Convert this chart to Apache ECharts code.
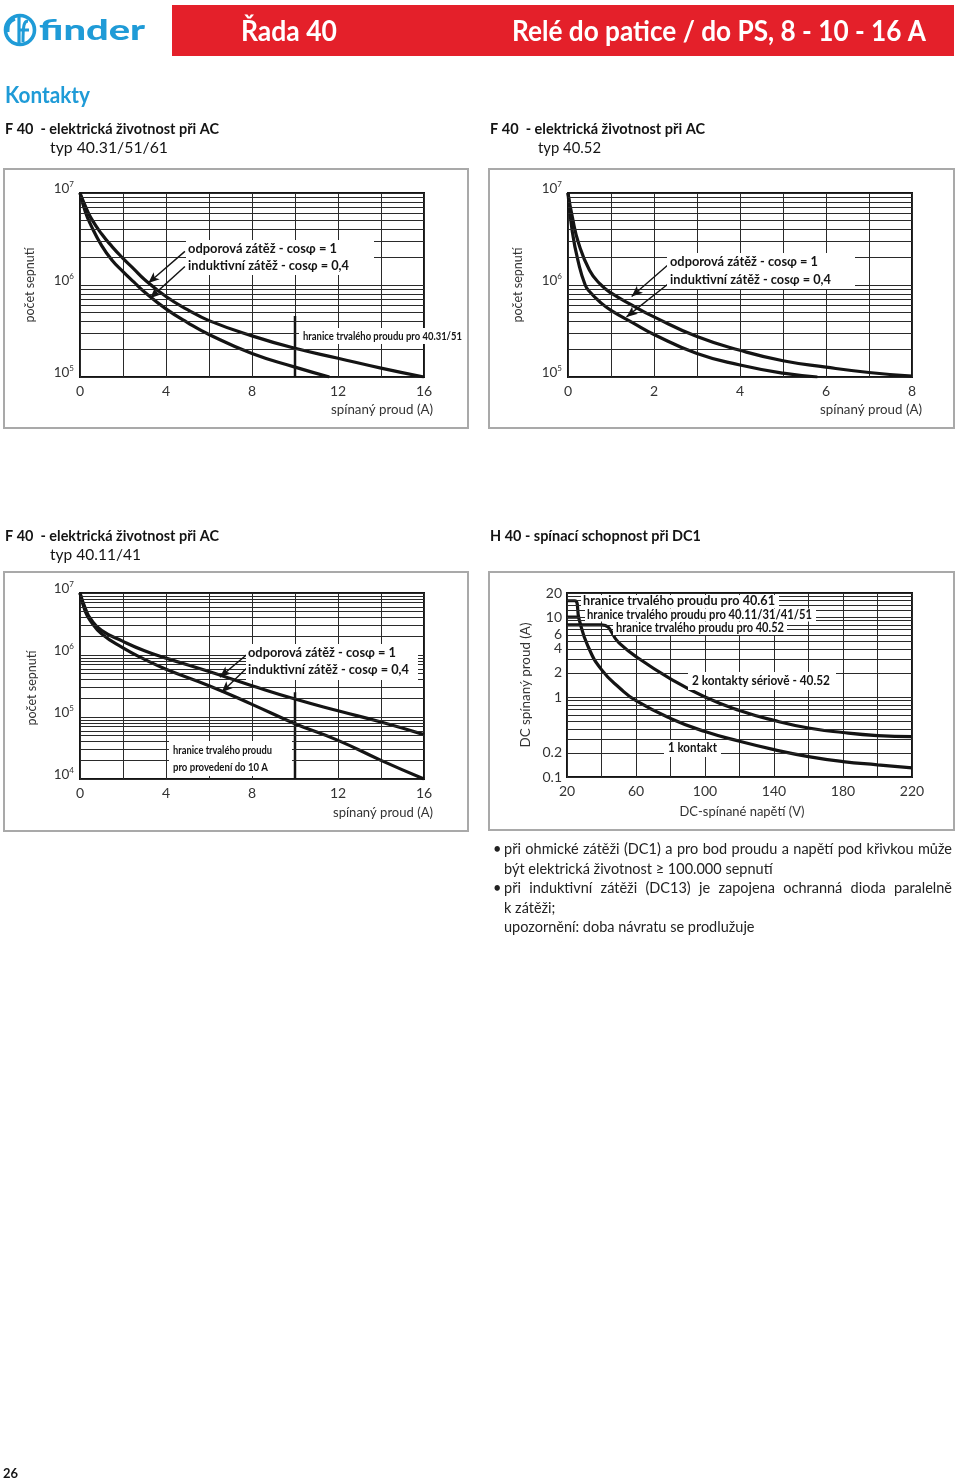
<!DOCTYPE html>
<html><head><meta charset="utf-8">
<script src="https://cdn.jsdelivr.net/npm/echarts@6/dist/echarts.min.js"></script>
<style>
html,body{margin:0;padding:0;background:#fff;}
#c{position:absolute;left:0;top:0;width:960px;height:1482px;}
.note{position:absolute;left:504px;width:448px;font-family:Lato,"Open Sans",sans-serif;font-size:14.5px;color:#222;line-height:19.5px;white-space:nowrap;}
.j{text-align:justify;text-align-last:justify;white-space:normal;}
.b{position:absolute;left:-11px;top:0;}
</style></head>
<body>
<div id="c"></div>
<div class="note j" style="top:839px"><span class="b">•</span>při ohmické zátěži (DC1) a pro bod proudu a napětí pod křivkou může</div>
<div class="note" style="top:858.5px">být elektrická životnost ≥ 100.000 sepnutí</div>
<div class="note j" style="top:878px"><span class="b">•</span>při induktivní zátěži (DC13) je zapojena ochranná dioda paralelně</div>
<div class="note" style="top:897.5px">k zátěži;</div>
<div class="note" style="top:917px">upozornění: doba návratu se prodlužuje</div>
<script>
// ================= DATA =================
// Chart A : F 40 - elektrická životnost při AC, typ 40.31/51/61  (x: spínaný proud A, y: počet sepnutí)
const aXTicks = [0, 4, 8, 12, 16];
const aResistive = [[0,1e7],[0.25,7.2e6],[0.5,5.4e6],[1,3.6e6],[1.5,2.6e6],[2,1.95e6],[2.5,1.5e6],[3,1.15e6],[4,7.5e5],[5,5.4e5],[6,4.1e5],[8,2.8e5],[10,2.05e5],[12,1.6e5],[14,1.25e5],[16,1.0e5]];
const aInductive = [[0,1e7],[0.25,6.2e6],[0.5,4.5e6],[1,2.7e6],[1.5,1.85e6],[2,1.4e6],[2.5,1.08e6],[3,8.4e5],[4,5.5e5],[5,3.9e5],[6,2.9e5],[8,1.8e5],[10,1.28e5],[11.6,1e5]];
const aLimit = [[10,1e5],[10,4.6e5]];
const aArrows = [[[4.88,2.32e6],[3.18,1.05e6]],[[4.88,1.59e6],[3.26,7.2e5]]];

// Chart B : typ 40.52
const bXTicks = [0, 2, 4, 6, 8];
const bResistive = [[0,1e7],[0.1,5.5e6],[0.25,2.8e6],[0.5,1.45e6],[0.75,1.02e6],[1,8.2e5],[1.5,6.0e5],[2,4.5e5],[3,2.75e5],[4,1.95e5],[5,1.5e5],[6,1.28e5],[7,1.12e5],[8,1.02e5]];
const bInductive = [[0,1e7],[0.1,3.8e6],[0.25,1.7e6],[0.4,1.0e6],[0.5,8.5e5],[0.75,6.5e5],[1,5.3e5],[1.5,3.9e5],[2,2.9e5],[3,1.8e5],[4,1.35e5],[5,1.1e5],[5.8,1.0e5]];
const bArrows = [[[2.37,1.72e6],[1.48,7.5e5]],[[2.40,1.09e6],[1.36,4.5e5]]];

// Chart C : typ 40.11/41
const cXTicks = [0, 4, 8, 12, 16];
const cResistive = [[0,1e7],[0.25,5.6e6],[0.5,3.8e6],[1,2.5e6],[2,1.66e6],[3,1.17e6],[4,8.9e5],[6,5.4e5],[8,3.2e5],[10,1.95e5],[12,1.26e5],[14,8.3e4],[16,5.2e4]];
const cInductive = [[0,1e7],[0.25,5.0e6],[0.5,3.5e6],[1,2.2e6],[2,1.3e6],[3,8.5e5],[4,5.9e5],[6,3.2e5],[8,1.6e5],[10,7.8e4],[12,4.2e4],[14,2.0e4],[16,1e4]];
const cLimit = [[10,1e4],[10,2.5e5]];
const cArrows = [[[7.75,1.01e6],[6.51,4.4e5]],[[7.83,6.5e5],[6.59,2.5e5]]];

// Chart D : H 40 - spínací schopnost při DC1 (x: DC-spínané napětí V, y: DC spínaný proud A)
const dXTicks = [20, 60, 100, 140, 180, 220];
const dYTicks = [0.1, 0.2, 1, 2, 4, 6, 10, 20];
const dGridY = [0.1,0.2,0.3,0.4,0.5,0.6,0.7,0.8,0.9,1,2,3,4,5,6,7,8,9,10,12,14,16,18,20];
const dOneContact = [[20,16],[24.5,16],[27,9.4],[32,4.4],[40,2.2],[51,1.27],[60,0.9],[80,0.54],[100,0.37],[120,0.28],[140,0.22],[160,0.18],[180,0.156],[200,0.142],[220,0.13]];
const dTwoSeries = [[20,8],[40,8],[50,4.8],[60,3.2],[80,1.69],[100,1.0],[120,0.68],[140,0.51],[160,0.41],[180,0.36],[200,0.33],[220,0.32]];
const dLimit10 = [[20,10],[27,10]];

const logMinor = [2,3,4,5,6,7,8,9];

// ================= STYLE =================
const FONT = 'Lato, "Open Sans", "DejaVu Sans", sans-serif';
const INK = '#141414';
const GRID = '#2a2a2a';
const LBL = '#333';
const BLUE = '#1f9bd7';
const RED = '#e4202a';

const chart = echarts.init(document.getElementById('c'), null, {renderer:'canvas'});
const mctx = document.createElement('canvas').getContext('2d');

function txt(text, x, y, o) {
  o = o || {};
  const size = o.size || 13, weight = o.weight || 'normal';
  const font = weight + ' ' + size + 'px ' + FONT;
  mctx.font = font;
  let sx = 1;
  if (o.width) sx = o.width / mctx.measureText(text).width;
  return {type:'text', x:x, y:y, scaleX:sx, scaleY:1, rotation:o.rotation||0, z:o.z||60, silent:true,
    style:{text:text, x:0, y:0, fill:o.color||INK, font:font, align:o.align||'left', verticalAlign:'middle',
      textAlign:o.align||'left', textVerticalAlign:'middle'}};
}
function box(x, y, w, h, o) {
  o = o || {};
  return {type:'rect', z:o.z||55, silent:true, shape:{x:x,y:y,width:w,height:h},
    style:{fill:o.fill===undefined?'#fff':o.fill, stroke:o.stroke||null, lineWidth:o.lw||1}};
}
function minorLines(decades){
  const out=[]; decades.forEach(d=>logMinor.forEach(m=>out.push({yAxis:m*d}))); return out;
}
function supFmt(v){ return '{b|10}{s|' + Math.round(Math.log10(v)) + '}'; }

const yLogLabel = {
  formatter: supFmt, margin: 6, padding:[0,0,9,0],
  rich: { b:{fontSize:13.5, fontFamily:FONT, color:LBL, lineHeight:16},
          s:{fontSize:8, fontFamily:FONT, color:LBL, lineHeight:8, verticalAlign:'top'} }
};
function xAxisDef(idx, min, max, interval, ticks){
  return {gridIndex:idx, type:'value', min:min, max:max, interval:interval,
    axisLine:{show:false}, axisTick:{show:false},
    splitLine:{show:true, lineStyle:{color:GRID, width:1}},
    axisLabel:{margin:7, fontSize:14, fontFamily:FONT, color:LBL, showMinLabel:true, showMaxLabel:true,
      formatter: v => ticks.indexOf(v) >= 0 ? String(v) : ''}};
}
function yLogDef(idx, min, max){
  return {gridIndex:idx, type:'log', logBase:10, min:min, max:max,
    axisLine:{show:false}, axisTick:{show:false},
    splitLine:{show:true, lineStyle:{color:GRID, width:1}},
    axisLabel: yLogLabel};
}
const curveStyle = {color:INK, width:3.2};
function curve(idx, data, extra){
  return Object.assign({type:'line', xAxisIndex:idx, yAxisIndex:idx, data:data, smooth:0.5,
    symbol:'none', lineStyle:curveStyle, silent:true, animation:false, emphasis:{disabled:true}, z:4}, extra||{});
}
function arrowMark(arrs){
  return {silent:true, animation:false, symbol:['none','arrow'], symbolSize:[7,11], precision:6,
    label:{show:false}, emphasis:{disabled:true},
    lineStyle:{color:INK, width:1.4, type:'solid'},
    data: arrs.map(a => [{coord:a[0]}, {coord:a[1]}])};
}
function gridMark(items){
  return {silent:true, animation:false, symbol:['none','none'], precision:6,
    label:{show:false}, emphasis:{disabled:true},
    lineStyle:{color:GRID, width:1, type:'solid'}, data:items};
}

const grids = [
  {left:80, top:193, width:344, height:184},
  {left:568, top:193, width:344, height:184},
  {left:80, top:593, width:344, height:186},
  {left:567, top:593, width:345, height:184}
].map(g => Object.assign({show:true, borderColor:INK, borderWidth:2, backgroundColor:'transparent'}, g));

const dGridItems = dGridY.map(v => {
  const it = {yAxis:v};
  if (dYTicks.indexOf(v) >= 0) it.label = {show:true, position:'start', distance:5, formatter:String(v),
    fontSize:14, fontFamily:FONT, color:LBL};
  return it;
});

const option = {
  animation:false,
  grid: grids,
  xAxis: [
    xAxisDef(0, 0, 16, 2, aXTicks),
    xAxisDef(1, 0, 8, 1, bXTicks),
    xAxisDef(2, 0, 16, 2, cXTicks),
    xAxisDef(3, 20, 220, 20, dXTicks)
  ],
  yAxis: [
    yLogDef(0, 1e5, 1e7),
    yLogDef(1, 1e5, 1e7),
    yLogDef(2, 1e4, 1e7),
    {gridIndex:3, type:'log', logBase:10, min:0.1, max:20, axisLine:{show:false}, axisTick:{show:false},
      splitLine:{show:false}, axisLabel:{show:false}}
  ],
  series: [
    curve(0, aLimit, {smooth:false, lineStyle:{color:INK,width:2.5}, markLine: gridMark(minorLines([1e5,1e6]))}),
    curve(0, aResistive, {name:'odporová zátěž - cosφ = 1', markLine: arrowMark(aArrows)}),
    curve(0, aInductive, {name:'induktivní zátěž - cosφ = 0,4'}),

    curve(1, bResistive, {name:'odporová zátěž - cosφ = 1', markLine: gridMark(minorLines([1e5,1e6]))}),
    curve(1, bInductive, {name:'induktivní zátěž - cosφ = 0,4', markLine: arrowMark(bArrows)}),

    curve(2, cLimit, {smooth:false, lineStyle:{color:INK,width:2.5}, markLine: gridMark(minorLines([1e4,1e5,1e6]))}),
    curve(2, cResistive, {name:'odporová zátěž - cosφ = 1', markLine: arrowMark(cArrows)}),
    curve(2, cInductive, {name:'induktivní zátěž - cosφ = 0,4'}),

    curve(3, dLimit10, {smooth:false, markLine: gridMark(dGridItems)}),
    curve(3, dOneContact, {name:'1 kontakt'}),
    curve(3, dTwoSeries, {name:'2 kontakty sériově - 40.52'})
  ],
  graphic: { elements: [] }
};

const G = option.graphic.elements;
// header
G.push(box(172, 5, 782, 51, {fill:RED, z:10}));
G.push(txt('Řada 40', 241, 32, {size:28, weight:'bold', color:'#fff', width:96}));
G.push(txt('Relé do patice / do PS, 8 - 10 - 16 A', 512, 32, {size:28, weight:'bold', color:'#fff', width:414}));
// logo
G.push({type:'circle', z:20, silent:true, shape:{cx:20, cy:30, r:14.5}, style:{fill:null, stroke:BLUE, lineWidth:3.6}});
G.push({type:'polyline', z:20, silent:true, shape:{points:[[19,16],[19,44]]}, style:{stroke:BLUE, lineWidth:3.2, fill:null}});
G.push({type:'bezierCurve', z:20, silent:true, shape:{x1:15,y1:19,x2:8,y2:32,cpx1:7,cpy1:22,cpx2:8,cpy2:28}, style:{stroke:BLUE, lineWidth:3, fill:null}});
G.push({type:'polyline', z:20, silent:true, shape:{points:[[19,30],[29,30]]}, style:{stroke:BLUE, lineWidth:3, fill:null}});
G.push({type:'bezierCurve', z:20, silent:true, shape:{x1:23,y1:42,x2:28,y2:21,cpx1:23,cpy1:25,cpx2:24,cpy2:21}, style:{stroke:BLUE, lineWidth:3, fill:null}});
G.push(txt('finder', 39, 31, {size:28, weight:'900', color:BLUE, width:106}));

// titles
G.push(txt('Kontakty', 5, 96, {size:23, weight:'bold', color:BLUE, width:85}));
G.push(txt('F 40  - elektrická životnost při AC', 5, 129, {size:14.5, weight:'bold', width:214}));
G.push(txt('typ 40.31/51/61', 50, 148, {size:14.5, width:118}));
G.push(txt('F 40  - elektrická životnost při AC', 490, 129, {size:14.5, weight:'bold', width:215}));
G.push(txt('typ 40.52', 538, 148, {size:14.5, width:63}));
G.push(txt('F 40  - elektrická životnost při AC', 5, 536, {size:14.5, weight:'bold', width:214}));
G.push(txt('typ 40.11/41', 50, 555, {size:14.5, width:91}));
G.push(txt('H 40 - spínací schopnost při DC1', 490, 536, {size:14.5, weight:'bold', width:211}));

// frames
const FR = '#a9a9a9';
G.push(box(4, 169, 464, 259, {fill:null, stroke:FR, lw:2, z:1}));
G.push(box(489, 169, 465, 259, {fill:null, stroke:FR, lw:2, z:1}));
G.push(box(4, 572, 464, 259, {fill:null, stroke:FR, lw:2, z:1}));
G.push(box(489, 572, 465, 258, {fill:null, stroke:FR, lw:2, z:1}));

// axis names
const ROT = Math.PI/2;
G.push(txt('počet sepnutí', 30, 285, {size:13.5, align:'center', rotation:ROT, width:75, color:LBL}));
G.push(txt('spínaný proud (A)', 433, 409, {size:14, align:'right', width:102, color:LBL}));
G.push(txt('počet sepnutí', 518, 285, {size:13.5, align:'center', rotation:ROT, width:75, color:LBL}));
G.push(txt('spínaný proud (A)', 922, 409, {size:14, align:'right', width:102, color:LBL}));
G.push(txt('počet sepnutí', 32, 688, {size:13.5, align:'center', rotation:ROT, width:75, color:LBL}));
G.push(txt('spínaný proud (A)', 433, 812, {size:14, align:'right', width:100, color:LBL}));
G.push(txt('DC spínaný proud (A)', 525, 685, {size:14, align:'center', rotation:ROT, width:125, color:LBL}));
G.push(txt('DC-spínané napětí (V)', 742, 811, {size:14, align:'center', width:125, color:LBL}));

// annotations chart A
G.push(box(186, 240, 188, 35));
G.push(txt('odporová zátěž - cosφ = 1', 188, 249, {size:13, weight:'bold', width:149}));
G.push(txt('induktivní zátěž - cosφ = 0,4', 188, 266, {size:13, weight:'bold', width:161}));
G.push(box(299, 328, 164, 16));
G.push(txt('hranice trvalého proudu pro 40.31/51', 303, 336, {size:12, weight:'bold', width:159}));
// chart B
G.push(box(667, 253, 188, 36));
G.push(txt('odporová zátěž - cosφ = 1', 670, 262, {size:13, weight:'bold', width:148}));
G.push(txt('induktivní zátěž - cosφ = 0,4', 670, 280, {size:13, weight:'bold', width:161}));
// chart C
G.push(box(246, 644, 172, 36));
G.push(txt('odporová zátěž - cosφ = 1', 248, 653, {size:13, weight:'bold', width:148}));
G.push(txt('induktivní zátěž - cosφ = 0,4', 248, 670, {size:13, weight:'bold', width:161}));
G.push(box(169, 741, 123, 35));
G.push(txt('hranice trvalého proudu', 173, 750, {size:12, weight:'bold', width:99}));
G.push(txt('pro provedení do 10 A', 173, 767, {size:12, weight:'bold', width:95}));
// chart D
G.push(box(581, 595, 198, 13));
G.push(txt('hranice trvalého proudu pro 40.61', 583, 601, {size:12.5, weight:'bold', width:192}));
G.push(box(585, 608.5, 231, 13));
G.push(txt('hranice trvalého proudu pro 40.11/31/41/51', 587, 615, {size:12.5, weight:'bold', width:225}));
G.push(box(613, 622, 174, 13));
G.push(txt('hranice trvalého proudu pro 40.52', 616, 628, {size:12.5, weight:'bold', width:168}));
G.push(box(688, 672, 148, 18));
G.push(txt('2 kontakty sériově - 40.52', 692, 681, {size:13, weight:'bold', width:138}));
G.push(box(664, 740, 57, 17));
G.push(txt('1 kontakt', 668, 748, {size:13, weight:'bold', width:49}));

// page number
G.push(txt('26', 3, 1474, {size:13, weight:'bold', width:15}));

chart.setOption(option);
</script>
</body></html>
